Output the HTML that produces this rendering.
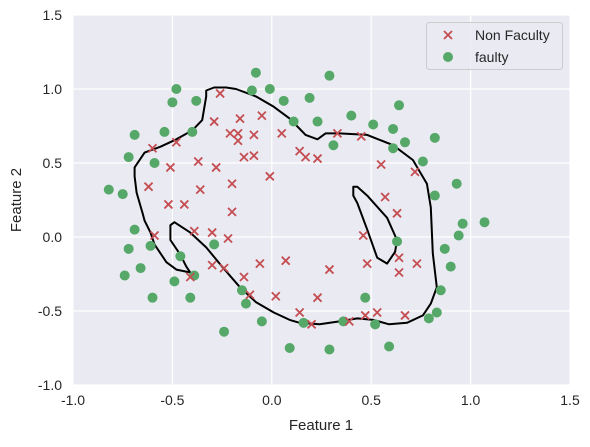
<!DOCTYPE html>
<html><head><meta charset="utf-8"><style>
html,body{margin:0;padding:0;background:#fff;}
svg text{font-family:"Liberation Sans",sans-serif;fill:#262626;}
</style></head><body>
<svg id="chart" width="590" height="442" xmlns="http://www.w3.org/2000/svg">
<rect x="73" y="15" width="497" height="370" fill="#eaeaf2"/>
<g id="grid"></g>
<g id="ticks"></g>
<g id="boundary"></g>
<g id="marks"></g>
<text x="321" y="430" font-size="15" text-anchor="middle">Feature 1</text>
<text x="21" y="200" font-size="15" text-anchor="middle" transform="rotate(-90 21 200)">Feature 2</text>
<g>
<rect x="426.5" y="22.5" width="136" height="47" rx="3" fill="#eaeaf2" fill-opacity="0.8" stroke="#cccccc"/>
<g>
<path d="M444 31 L452 39 M452 31 L444 39" stroke="#c44e52" stroke-width="1.8"/>
<text x="475" y="40" font-size="14">Non Faculty</text>
</g>
<g>
<circle cx="448" cy="57" r="5" fill="#55a868"/>
<text x="475" y="62" font-size="14">faulty</text>
</g>
</g>
</svg>
<script>
const xTicks=[-1.0,-0.5,0.0,0.5,1.0,1.5];
const yTicks=[-1.0,-0.5,0.0,0.5,1.0,1.5];
const redX=[-0.26,-0.29,-0.16,-0.05,-0.21,-0.17,-0.17,-0.09,0.05,-0.60,-0.48,-0.14,-0.09,0.14,0.17,0.23,-0.51,-0.37,-0.28,-0.62,-0.36,-0.20,-0.01,-0.52,-0.44,-0.20,0.33,0.45,0.55,0.72,0.57,0.63,0.46,0.64,0.48,0.64,0.73,0.29,0.23,0.14,0.20,0.39,0.47,0.53,0.67,-0.59,-0.39,-0.30,-0.22,-0.30,-0.24,-0.06,0.07,-0.14,-0.41,-0.11,0.02];
const redY=[0.97,0.78,0.80,0.82,0.70,0.70,0.65,0.69,0.70,0.60,0.64,0.54,0.55,0.58,0.54,0.53,0.47,0.51,0.47,0.34,0.32,0.36,0.41,0.22,0.22,0.17,0.70,0.68,0.49,0.44,0.27,0.16,0.01,-0.14,-0.18,-0.24,-0.18,-0.22,-0.41,-0.51,-0.59,-0.57,-0.53,-0.51,-0.53,0.01,0.04,0.03,-0.01,-0.19,-0.21,-0.18,-0.16,-0.27,-0.27,-0.39,-0.40];
const greenX=[-0.08,-0.48,-0.10,-0.01,0.19,-0.50,-0.38,0.06,0.11,0.23,-0.69,-0.54,-0.40,-0.72,-0.59,-0.82,-0.75,-0.69,0.29,0.64,0.40,0.51,0.61,0.82,0.67,0.61,0.31,0.76,0.93,0.82,0.96,1.07,0.94,0.63,0.87,0.90,0.85,0.47,0.83,0.79,0.52,0.36,0.16,0.29,0.59,-0.72,-0.61,-0.29,-0.46,-0.66,-0.74,-0.39,-0.49,-0.60,-0.41,-0.15,-0.13,-0.24,-0.05,0.09];
const greenY=[1.11,1.00,0.99,1.00,0.94,0.91,0.92,0.92,0.78,0.78,0.69,0.71,0.71,0.54,0.50,0.32,0.29,0.05,1.09,0.89,0.82,0.76,0.73,0.67,0.64,0.60,0.62,0.51,0.36,0.28,0.09,0.10,0.01,-0.03,-0.08,-0.20,-0.36,-0.41,-0.51,-0.55,-0.59,-0.57,-0.58,-0.76,-0.74,-0.08,-0.06,-0.05,-0.13,-0.21,-0.26,-0.26,-0.30,-0.41,-0.41,-0.36,-0.45,-0.64,-0.57,-0.75];
const outerX=[-0.33,-0.29,-0.23,-0.18,-0.08,0.01,0.09,0.17,0.23,0.27,0.34,0.48,0.61,0.71,0.78,0.80,0.81,0.83,0.80,0.76,0.68,0.59,0.51,0.43,0.34,0.24,0.14,0.09,0.01,-0.08,-0.16,-0.25,-0.33,-0.41,-0.49,-0.51,-0.51,-0.46,-0.43,-0.41,-0.48,-0.53,-0.59,-0.61,-0.64,-0.65,-0.68,-0.69,-0.69,-0.64,-0.56,-0.48,-0.40,-0.35,-0.33];
const outerY=[0.99,1.01,1.01,1.00,0.95,0.88,0.80,0.69,0.66,0.70,0.70,0.69,0.62,0.52,0.36,0.20,-0.11,-0.34,-0.45,-0.53,-0.58,-0.59,-0.56,-0.55,-0.57,-0.59,-0.58,-0.56,-0.51,-0.44,-0.34,-0.20,-0.07,0.03,0.10,0.08,-0.02,-0.12,-0.20,-0.24,-0.22,-0.17,-0.05,0.03,0.11,0.16,0.30,0.41,0.47,0.57,0.61,0.66,0.72,0.79,0.95];
const innerX=[0.41,0.43,0.48,0.58,0.63,0.62,0.58,0.53,0.48,0.43,0.41];
const innerY=[0.34,0.34,0.28,0.13,-0.02,-0.10,-0.18,-0.14,0.05,0.23,0.28];

const NS="http://www.w3.org/2000/svg";
const X0=73,X1=570,Y0=385,Y1=15;
function sx(v){return X0+(v-(-1))/(2.5)*(X1-X0);}
function sy(v){return Y0-(v-(-1))/(2.5)*(Y0-Y1);}
function mk(tag,attrs,parent){const e=document.createElementNS(NS,tag);for(const k in attrs)e.setAttribute(k,attrs[k]);parent.appendChild(e);return e;}
const grid=document.getElementById('grid'),ticks=document.getElementById('ticks');
xTicks.forEach(t=>{
  const l=mk('line',{x1:sx(t),x2:sx(t),y1:Y1,y2:Y0,stroke:'#fff','stroke-width':1.2},grid);
  
  
  const tx=mk('text',{x:sx(t),y:405,'font-size':14,'text-anchor':'middle'},ticks);
  tx.textContent=t.toFixed(1);
  
  
});
yTicks.forEach(t=>{
  const l=mk('line',{x1:X0,x2:X1,y1:sy(t),y2:sy(t),stroke:'#fff','stroke-width':1.2},grid);
  
  
  const tx=mk('text',{x:62,y:sy(t)+5,'font-size':14,'text-anchor':'end'},ticks);
  tx.textContent=t.toFixed(1);
  
  
});
const bnd=document.getElementById('boundary');
function poly(xs,ys,name){
  let d=xs.map((v,i)=>(i?'L':'M')+sx(v).toFixed(1)+' '+sy(ys[i]).toFixed(1)).join(' ')+' Z';
  const p=mk('path',{d:d,fill:'none',stroke:'#000','stroke-width':2,'stroke-linejoin':'round'},bnd);
  
  
}
poly(outerX,outerY,'decision-boundary-outer');
poly(innerX,innerY,'decision-boundary-inner');
const marks=document.getElementById('marks');
greenX.forEach((v,i)=>{
  const c=mk('circle',{cx:sx(v),cy:sy(greenY[i]),r:5,fill:'#55a868'},marks);
  
  
});
redX.forEach((v,i)=>{
  const x=sx(v),y=sy(redY[i]);
  const p=mk('path',{d:`M${x-4} ${y-4} L${x+4} ${y+4} M${x+4} ${y-4} L${x-4} ${y+4}`,stroke:'#c44e52','stroke-width':1.8},marks);
  
  
});
</script>
</body></html>
